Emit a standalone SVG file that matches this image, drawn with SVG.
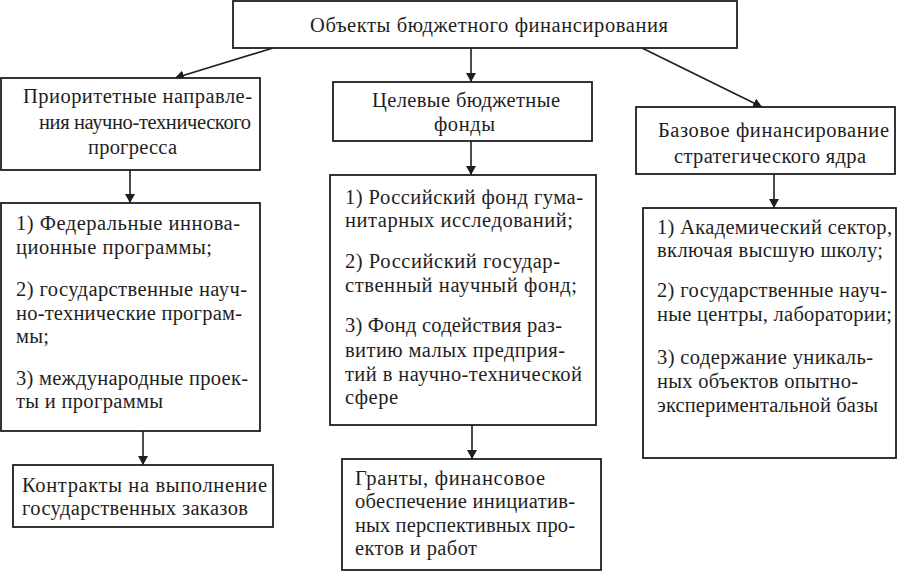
<svg xmlns="http://www.w3.org/2000/svg" width="903" height="573" viewBox="0 0 903 573">
<defs>
<marker id="ah" markerWidth="9" markerHeight="10" refX="9" refY="5" orient="auto" markerUnits="userSpaceOnUse">
<path d="M0,0 L10,5 L0,10 Z" transform="scale(0.9,1)" fill="#1e1e1e"/>
</marker>
<style>
.box{fill:#fff;stroke:#1e1e1e;stroke-width:1.8}
.t{font-family:"Liberation Serif","Times New Roman",serif;font-size:20.5px;fill:#1e1e1e}
.ln{stroke:#1e1e1e;stroke-width:1.6;fill:none;marker-end:url(#ah)}
</style>
</defs>
<rect width="903" height="573" fill="#fff"/>
<g id="connectors">
<line class="ln" x1="273" y1="48" x2="175" y2="78"/>
<line class="ln" x1="471" y1="48" x2="471" y2="82"/>
<line class="ln" x1="642" y1="48" x2="762" y2="107"/>
<line class="ln" x1="130" y1="170" x2="130" y2="203"/>
<line class="ln" x1="471" y1="141" x2="471" y2="175"/>
<line class="ln" x1="774" y1="174" x2="774" y2="208"/>
<line class="ln" x1="143" y1="431" x2="143" y2="465"/>
<line class="ln" x1="472" y1="425" x2="472" y2="459"/>
</g>
<g id="root">
<rect class="box" x="233" y="1" width="504" height="47"/>
<text class="t" x="310" y="32" textLength="358" lengthAdjust="spacing">Объекты бюджетного финансирования</text>
</g>
<g id="priority">
<rect class="box" x="1" y="78" width="259" height="92"/>
<text class="t" x="23" y="103" textLength="229" lengthAdjust="spacing">Приоритетные направле-</text>
<text class="t" x="39" y="129" textLength="212" lengthAdjust="spacing">ния научно-технического</text>
<text class="t" x="88" y="154" textLength="89" lengthAdjust="spacing">прогресса</text>
</g>
<g id="funds">
<rect class="box" x="333" y="82" width="259" height="59"/>
<text class="t" x="372" y="107" textLength="188" lengthAdjust="spacing">Целевые бюджетные</text>
<text class="t" x="434" y="131" textLength="61" lengthAdjust="spacing">фонды</text>
</g>
<g id="base">
<rect class="box" x="636" y="107" width="259" height="67"/>
<text class="t" x="658" y="137" textLength="231" lengthAdjust="spacing">Базовое финансирование</text>
<text class="t" x="674" y="163" textLength="192" lengthAdjust="spacing">стратегического ядра</text>
</g>
<g id="programs">
<rect class="box" x="1" y="203" width="259" height="228"/>
<text class="t" x="16" y="230" textLength="224" lengthAdjust="spacing">1) Федеральные иннова-</text>
<text class="t" x="16" y="254" textLength="196" lengthAdjust="spacing">ционные программы;</text>
<text class="t" x="16" y="296" textLength="231" lengthAdjust="spacing">2) государственные науч-</text>
<text class="t" x="16" y="320" textLength="226" lengthAdjust="spacing">но-технические програм-</text>
<text class="t" x="16" y="343" textLength="33" lengthAdjust="spacing">мы;</text>
<text class="t" x="16" y="385" textLength="232" lengthAdjust="spacing">3) международные проек-</text>
<text class="t" x="16" y="408" textLength="147" lengthAdjust="spacing">ты и программы</text>
</g>
<g id="fundlist">
<rect class="box" x="330" y="175" width="266" height="250"/>
<text class="t" x="345" y="204" textLength="238" lengthAdjust="spacing">1) Российский фонд гума-</text>
<text class="t" x="345" y="227" textLength="228" lengthAdjust="spacing">нитарных исследований;</text>
<text class="t" x="345" y="268" textLength="215" lengthAdjust="spacing">2) Российский государ-</text>
<text class="t" x="345" y="292" textLength="232" lengthAdjust="spacing">ственный научный фонд;</text>
<text class="t" x="345" y="332" textLength="217" lengthAdjust="spacing">3) Фонд содействия раз-</text>
<text class="t" x="345" y="357" textLength="220" lengthAdjust="spacing">витию малых предприя-</text>
<text class="t" x="345" y="381" textLength="237" lengthAdjust="spacing">тий в научно-технической</text>
<text class="t" x="345" y="404" textLength="53" lengthAdjust="spacing">сфере</text>
</g>
<g id="baselist">
<rect class="box" x="643" y="208" width="253" height="250"/>
<text class="t" x="657" y="234" textLength="235" lengthAdjust="spacing">1) Академический сектор,</text>
<text class="t" x="657" y="257" textLength="226" lengthAdjust="spacing">включая высшую школу;</text>
<text class="t" x="657" y="297" textLength="230" lengthAdjust="spacing">2) государственные науч-</text>
<text class="t" x="657" y="321" textLength="235" lengthAdjust="spacing">ные центры, лаборатории;</text>
<text class="t" x="657" y="364" textLength="216" lengthAdjust="spacing">3) содержание уникаль-</text>
<text class="t" x="657" y="388" textLength="201" lengthAdjust="spacing">ных объектов опытно-</text>
<text class="t" x="657" y="412" textLength="221" lengthAdjust="spacing">экспериментальной базы</text>
</g>
<g id="contracts">
<rect class="box" x="13" y="465" width="260" height="62"/>
<text class="t" x="22" y="492" textLength="245" lengthAdjust="spacing">Контракты на выполнение</text>
<text class="t" x="22" y="515" textLength="226" lengthAdjust="spacing">государственных заказов</text>
</g>
<g id="grants">
<rect class="box" x="342" y="459" width="259" height="111"/>
<text class="t" x="355" y="485" textLength="190" lengthAdjust="spacing">Гранты, финансовое</text>
<text class="t" x="355" y="508" textLength="220" lengthAdjust="spacing">обеспечение инициатив-</text>
<text class="t" x="355" y="532" textLength="220" lengthAdjust="spacing">ных перспективных про-</text>
<text class="t" x="355" y="555" textLength="122" lengthAdjust="spacing">ектов и работ</text>
</g>
</svg>
